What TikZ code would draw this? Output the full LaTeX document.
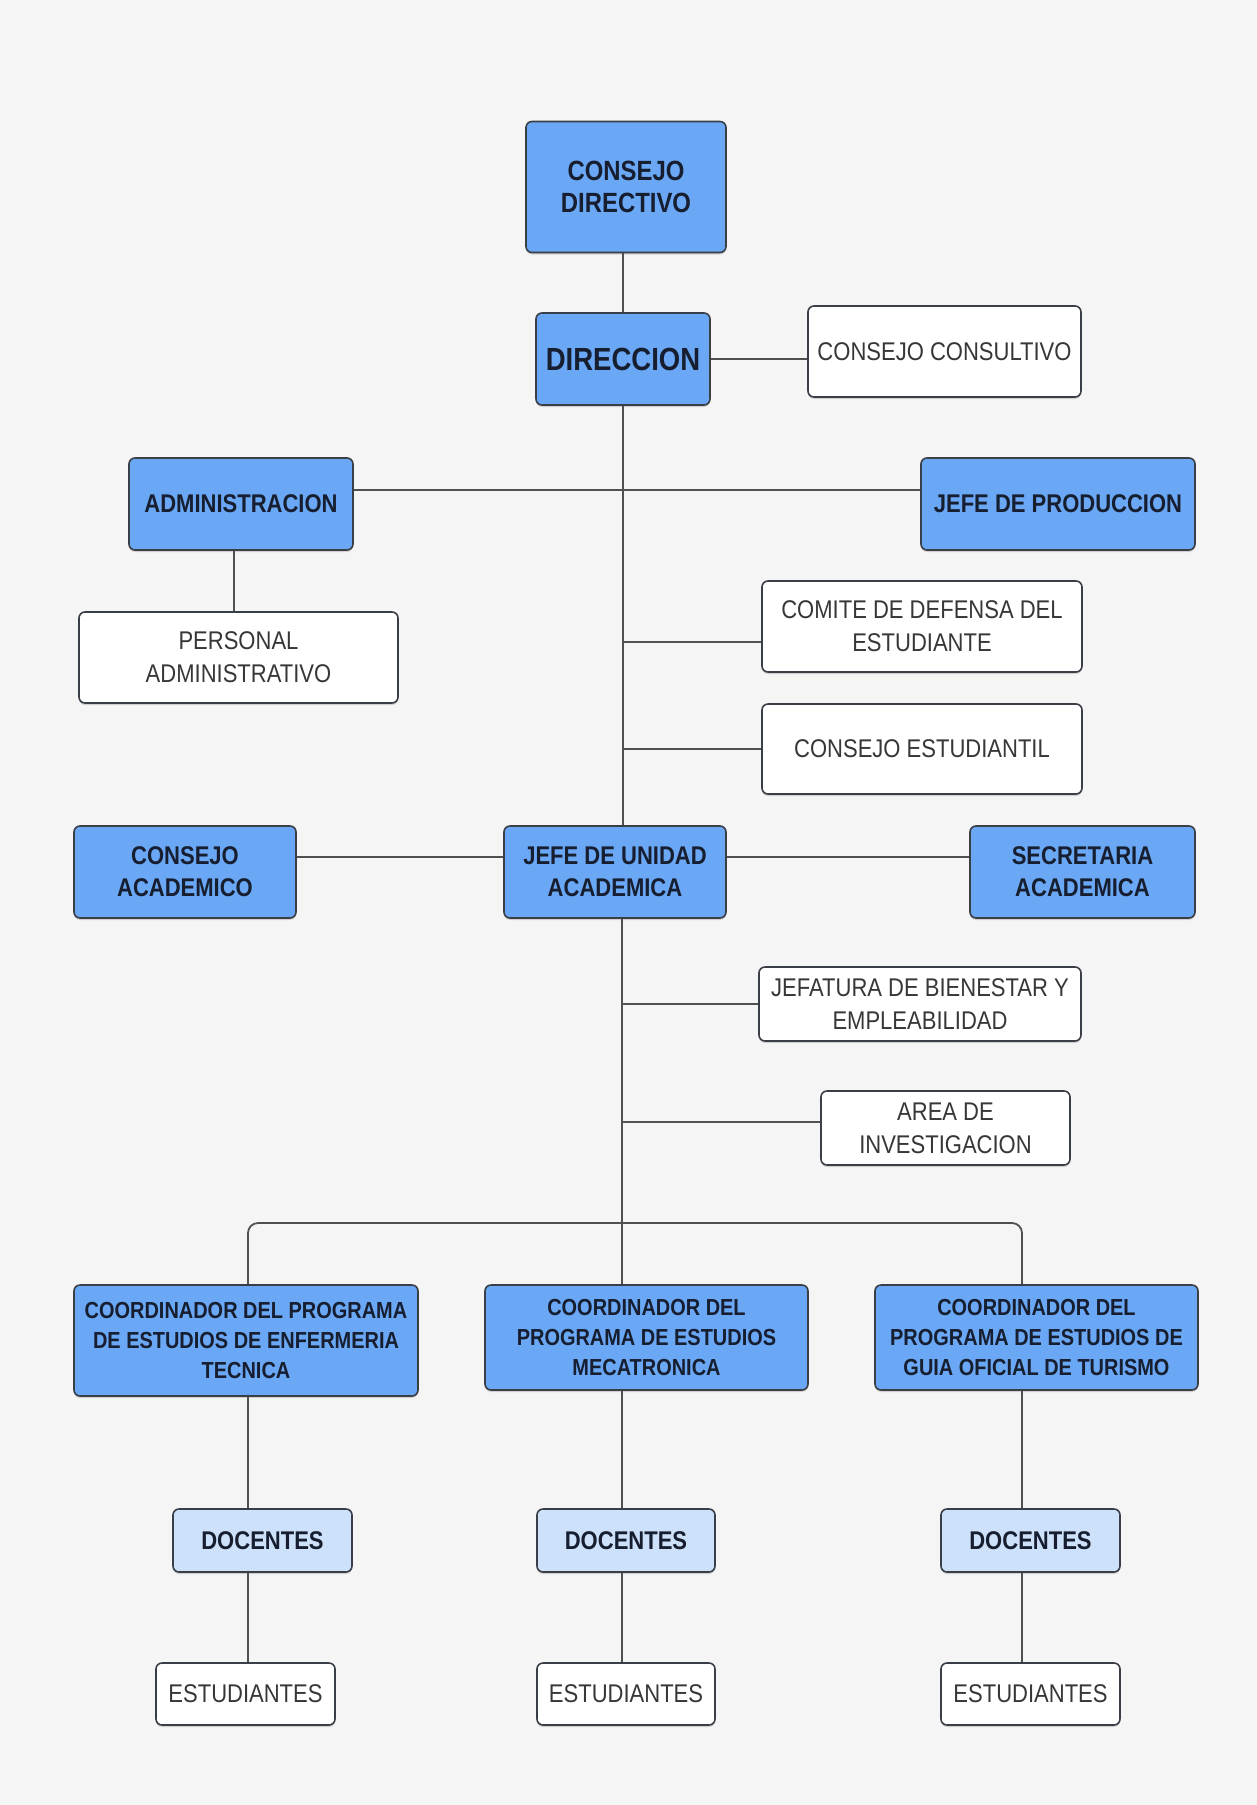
\documentclass[tikz,border=0pt]{standalone}
\usepackage{fontspec}
\setmainfont{Liberation Sans}[FakeStretch=0.86]
\usepackage{tikz}
\usetikzlibrary{shadows}
\definecolor{bgG}{RGB}{245,245,245}
\definecolor{boxB}{RGB}{106,167,244}
\definecolor{boxL}{RGB}{206,225,250}
\definecolor{edgeD}{RGB}{58,62,70}
\definecolor{inkB}{RGB}{22,30,48}
\definecolor{inkG}{RGB}{55,55,55}
\definecolor{lineG}{RGB}{80,80,80}

\begin{document}
\begin{tikzpicture}[x=0.5pt, y=-0.5pt, font=\fontsize{12.8}{16.5}\selectfont,
  box/.style={rectangle, rounded corners=3pt, draw=edgeD, line width=0.8pt, align=center, inner sep=2pt,
    drop shadow={shadow xshift=0pt, shadow yshift=-1pt, opacity=0.3}},
  b/.style={box, fill=boxB, text=inkB, font=\fontsize{12.8}{16}\selectfont\bfseries},
  l/.style={box, fill=boxL, text=inkB, font=\fontsize{12.8}{16}\selectfont\bfseries},
  w/.style={box, fill=white, text=inkG},
  k/.style={b, font=\fontsize{11.6}{15}\selectfont\bfseries},
  con/.style={draw=lineG, line width=0.9pt}]
  \fill[bgG] (0,0) rectangle (1257,1805);
  % top of the chart
  \node[b, minimum width=100pt, minimum height=65.5pt, font=\fontsize{13.9}{16}\selectfont\bfseries] (cd) at (626,187) {CONSEJO\\DIRECTIVO};
  \node[b, minimum width=87pt, minimum height=46pt, font=\fontsize{16}{18}\selectfont\bfseries] (dir) at (623,359) {DIRECCION};
  \node[w, minimum width=136.5pt, minimum height=45.5pt] (cc) at (944.5,351.5) {CONSEJO CONSULTIVO};
  \node[b, minimum width=112pt, minimum height=46pt] (adm) at (241,504) {ADMINISTRACION};
  \node[b, minimum width=137pt, minimum height=46pt] (jp) at (1058,504) {JEFE DE PRODUCCION};
  \node[w, minimum width=159.5pt, minimum height=45.5pt] (pa) at (238.5,657.5) {PERSONAL\\ADMINISTRATIVO};
  \node[w, minimum width=160pt, minimum height=45.5pt] (cm) at (922,626.5) {COMITE DE DEFENSA DEL\\ESTUDIANTE};
  \node[w, minimum width=160pt, minimum height=45pt] (ce) at (922,749) {CONSEJO ESTUDIANTIL};
  % academic unit
  \node[b, minimum width=111pt, minimum height=46pt] (ca) at (185,872) {CONSEJO\\ACADEMICO};
  \node[b, minimum width=111pt, minimum height=46pt] (jua) at (615,872) {JEFE DE UNIDAD\\ACADEMICA};
  \node[b, minimum width=112.5pt, minimum height=46pt] (sa) at (1082.5,872) {SECRETARIA\\ACADEMICA};
  \node[w, minimum width=161pt, minimum height=37pt] (jb) at (920,1004) {JEFATURA DE BIENESTAR Y\\EMPLEABILIDAD};
  \node[w, minimum width=124.5pt, minimum height=37pt] (ai) at (945.5,1128) {AREA DE\\INVESTIGACION};
  % programmes
  \node[k, minimum width=172pt, minimum height=55.5pt] (c1) at (246,1340.5) {COORDINADOR DEL PROGRAMA\\DE ESTUDIOS DE ENFERMERIA\\TECNICA};
  \node[k, minimum width=161.5pt, minimum height=52.5pt] (c2) at (646.5,1337.5) {COORDINADOR DEL\\PROGRAMA DE ESTUDIOS\\MECATRONICA};
  \node[k, minimum width=161.5pt, minimum height=52.5pt] (c3) at (1036.5,1337.5) {COORDINADOR DEL\\PROGRAMA DE ESTUDIOS DE\\GUIA OFICIAL DE TURISMO};
  \node[l, minimum width=89.5pt, minimum height=31.5pt] (d1) at (262.5,1540.5) {DOCENTES};
  \node[l, minimum width=89pt, minimum height=31.5pt] (d2) at (626,1540.5) {DOCENTES};
  \node[l, minimum width=89.5pt, minimum height=31.5pt] (d3) at (1030.5,1540.5) {DOCENTES};
  \node[w, minimum width=89.5pt, minimum height=31pt] (e1) at (245.5,1694) {ESTUDIANTES};
  \node[w, minimum width=89pt, minimum height=31pt] (e2) at (626,1694) {ESTUDIANTES};
  \node[w, minimum width=89.5pt, minimum height=31pt] (e3) at (1030.5,1694) {ESTUDIANTES};
  % line columns
  \coordinate (tr) at (623,0);
  \coordinate (tr2) at (622,0);
  \coordinate (colA) at (248,0);
  \coordinate (colC) at (1022,0);
  \coordinate (h1) at (623,490);
  \coordinate (bus) at (622,1223);
  % connectors
  \draw[con] (cd.south -| tr) -- (dir.north -| tr);
  \draw[con] (dir.east) -- (dir.east -| cc.west);
  \draw[con] (dir.south) -- (dir.south |- jua.north);
  \draw[con] (adm.east |- h1) -- (jp.west |- h1);
  \draw[con] ([xshift=-3.5pt]adm.south) -- ([xshift=-3.5pt]adm.south |- pa.north);
  \draw[con] ([yshift=-7.75pt]cm.west) -- ([yshift=-7.75pt]cm.west -| tr);
  \draw[con] (ce.west) -- (ce.west -| tr);
  \draw[con] ([yshift=7.5pt]ca.east) -- ([yshift=7.5pt]jua.west);
  \draw[con] ([yshift=7.5pt]jua.east) -- ([yshift=7.5pt]sa.west);
  \draw[con] (jua.south -| tr2) -- (c2.north -| tr2);
  \draw[con] (jb.west) -- (jb.west -| tr2);
  \draw[con] ([yshift=3pt]ai.west) -- ([yshift=3pt]ai.west -| tr2);
  \draw[con, rounded corners=5pt] (c1.north -| colA) |- (bus) -| (c3.north -| colC);
  \draw[con] (c1.south -| colA) -- (d1.north -| colA);
  \draw[con] (d1.south -| colA) -- (e1.north -| colA);
  \draw[con] (c2.south -| tr2) -- (d2.north -| tr2);
  \draw[con] (d2.south -| tr2) -- (e2.north -| tr2);
  \draw[con] (c3.south -| colC) -- (d3.north -| colC);
  \draw[con] (d3.south -| colC) -- (e3.north -| colC);
\end{tikzpicture}
\end{document}
